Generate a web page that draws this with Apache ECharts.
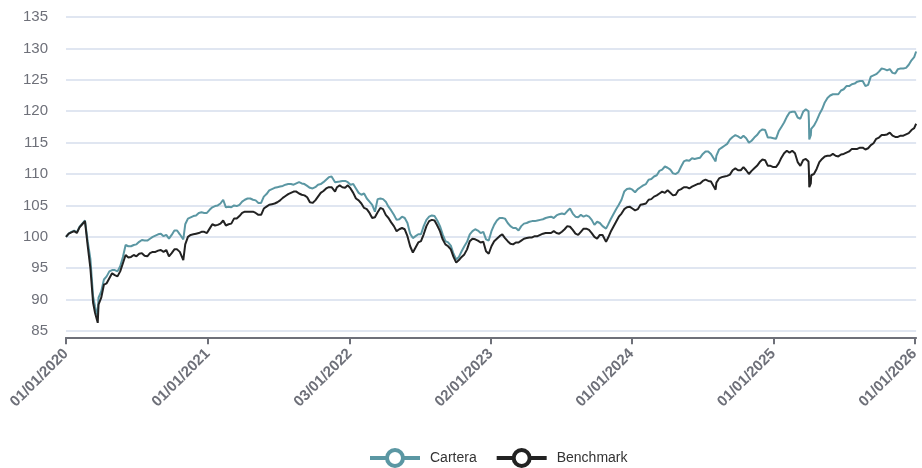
<!DOCTYPE html>
<html><head><meta charset="utf-8">
<script src="https://cdn.jsdelivr.net/npm/echarts@6/dist/echarts.min.js"></script>
<style>html,body{margin:0;padding:0;background:#fff}#c{width:922px;height:468px}</style>
</head><body><div id="c"></div>
<script>
const dates = [
'2020-01-01','2020-01-08','2020-01-15','2020-01-22','2020-01-29','2020-02-05','2020-02-12','2020-02-19','2020-02-26','2020-03-04','2020-03-11','2020-03-16','2020-03-23','2020-03-25','2020-04-01','2020-04-08','2020-04-15','2020-04-22','2020-04-29','2020-05-06','2020-05-13','2020-05-20','2020-05-27','2020-06-03','2020-06-10','2020-06-17','2020-06-24','2020-07-01','2020-07-08','2020-07-15','2020-07-22','2020-07-29','2020-08-05','2020-08-12','2020-08-19','2020-08-26','2020-09-02','2020-09-09','2020-09-16','2020-09-23','2020-09-30','2020-10-07','2020-10-14','2020-10-21','2020-10-30','2020-11-04','2020-11-11','2020-11-18','2020-11-25','2020-12-02','2020-12-09','2020-12-16','2020-12-23','2020-12-30',
'2021-01-06','2021-01-13','2021-01-20','2021-01-27','2021-02-03','2021-02-10','2021-02-17','2021-02-24','2021-03-03','2021-03-10','2021-03-17','2021-03-24','2021-03-31','2021-04-07','2021-04-14','2021-04-21','2021-04-28','2021-05-05','2021-05-12','2021-05-19','2021-05-26','2021-06-02','2021-06-09','2021-06-16','2021-06-23','2021-06-30','2021-07-07','2021-07-14','2021-07-21','2021-07-28','2021-08-04','2021-08-11','2021-08-18','2021-08-25','2021-09-01','2021-09-08','2021-09-15','2021-09-22','2021-09-29','2021-10-06','2021-10-13','2021-10-20','2021-10-27','2021-11-03','2021-11-10','2021-11-17','2021-11-26','2021-12-01','2021-12-08','2021-12-15','2021-12-22','2021-12-29',
'2022-01-05','2022-01-12','2022-01-19','2022-01-26','2022-02-02','2022-02-09','2022-02-16','2022-02-23','2022-03-02','2022-03-09','2022-03-16','2022-03-23','2022-03-30','2022-04-06','2022-04-13','2022-04-20','2022-04-27','2022-05-04','2022-05-11','2022-05-18','2022-05-25','2022-06-01','2022-06-08','2022-06-15','2022-06-22','2022-06-29','2022-07-06','2022-07-13','2022-07-20','2022-07-27','2022-08-03','2022-08-10','2022-08-17','2022-08-24','2022-08-31','2022-09-07','2022-09-14','2022-09-21','2022-09-28','2022-10-05','2022-10-12','2022-10-19','2022-10-26','2022-11-02','2022-11-09','2022-11-16','2022-11-23','2022-11-30','2022-12-07','2022-12-14','2022-12-21','2022-12-28',
'2023-01-04','2023-01-11','2023-01-18','2023-01-25','2023-02-01','2023-02-08','2023-02-15','2023-02-22','2023-03-01','2023-03-08','2023-03-15','2023-03-22','2023-03-29','2023-04-05','2023-04-12','2023-04-19','2023-04-26','2023-05-03','2023-05-10','2023-05-17','2023-05-24','2023-05-31','2023-06-07','2023-06-14','2023-06-21','2023-06-28','2023-07-05','2023-07-12','2023-07-19','2023-07-26','2023-08-02','2023-08-09','2023-08-16','2023-08-23','2023-08-30','2023-09-06','2023-09-13','2023-09-20','2023-09-27','2023-10-04','2023-10-11','2023-10-18','2023-10-27','2023-11-01','2023-11-08','2023-11-15','2023-11-22','2023-11-29','2023-12-06','2023-12-13','2023-12-20','2023-12-27',
'2024-01-03','2024-01-10','2024-01-17','2024-01-24','2024-01-31','2024-02-07','2024-02-14','2024-02-21','2024-02-28','2024-03-06','2024-03-13','2024-03-20','2024-03-27','2024-04-03','2024-04-10','2024-04-17','2024-04-24','2024-05-01','2024-05-08','2024-05-15','2024-05-22','2024-05-29','2024-06-05','2024-06-12','2024-06-19','2024-06-26','2024-07-03','2024-07-10','2024-07-17','2024-07-24','2024-08-05','2024-08-07','2024-08-14','2024-08-21','2024-08-28','2024-09-04','2024-09-11','2024-09-18','2024-09-25','2024-10-02','2024-10-09','2024-10-16','2024-10-23','2024-10-30','2024-11-06','2024-11-13','2024-11-20','2024-11-27','2024-12-04','2024-12-11','2024-12-18','2024-12-25',
'2025-01-01','2025-01-08','2025-01-15','2025-01-22','2025-01-29','2025-02-05','2025-02-12','2025-02-19','2025-02-26','2025-03-05','2025-03-12','2025-03-19','2025-03-26','2025-04-02','2025-04-03','2025-04-04','2025-04-08','2025-04-09','2025-04-16','2025-04-23','2025-04-30','2025-05-07','2025-05-14','2025-05-21','2025-05-28','2025-06-04','2025-06-11','2025-06-18','2025-06-25','2025-07-02','2025-07-09','2025-07-16','2025-07-23','2025-07-30','2025-08-06','2025-08-13','2025-08-20','2025-08-27','2025-09-03','2025-09-10','2025-09-17','2025-09-24','2025-10-01','2025-10-08','2025-10-15','2025-10-22','2025-10-29','2025-11-05','2025-11-12','2025-11-19','2025-11-26','2025-12-03','2025-12-10','2025-12-17','2025-12-24','2025-12-31','2026-01-05'
];
const cartera = [
100.0,100.5,100.8,101.0,100.7,101.6,102.1,102.6,99.3,96.5,90.5,88.9,87.4,90.3,91.3,93.2,93.7,94.5,94.7,94.7,94.5,95.3,96.8,98.7,98.5,98.5,98.7,98.8,99.2,99.5,99.4,99.4,99.7,100.0,100.2,100.4,100.5,100.1,100.3,99.7,100.3,101.0,101.0,100.4,99.6,102.0,102.9,103.1,103.3,103.4,103.8,103.9,103.8,103.8,
104.3,104.7,104.9,105.0,105.3,105.9,104.7,104.8,104.7,105.0,104.9,105.1,105.6,105.9,106.1,106.1,105.9,105.8,105.4,105.4,106.4,106.8,107.4,107.6,107.8,107.9,108.0,108.1,108.3,108.4,108.4,108.3,108.5,108.7,108.5,108.4,108.1,107.8,107.7,107.9,108.3,108.4,108.7,109.1,109.5,109.6,108.7,108.9,108.8,108.9,108.9,108.7,
108.3,108.4,107.7,107.0,106.7,106.9,106.1,105.6,105.1,104.0,106.0,106.1,106.0,105.6,104.8,104.2,103.5,102.7,102.8,103.2,103.0,102.2,100.5,99.8,100.1,100.4,100.4,101.7,102.7,103.2,103.4,103.3,102.6,101.7,100.4,99.3,99.1,98.6,97.3,96.4,96.8,97.7,98.5,99.2,100.4,100.9,101.2,101.0,100.6,100.8,99.6,99.4,
100.9,101.9,102.6,103.0,103.0,102.9,102.2,101.7,101.4,101.4,101.0,101.7,102.1,102.2,102.4,102.5,102.5,102.6,102.7,102.8,103.0,103.1,103.2,103.0,103.4,103.6,103.7,103.6,104.1,104.5,103.7,103.2,103.1,103.5,103.2,103.4,103.2,102.7,101.9,102.4,102.2,101.7,101.3,101.9,102.8,103.6,104.4,105.1,105.9,107.2,107.6,107.7,
107.5,107.1,107.6,107.9,108.2,108.4,109.1,109.2,109.6,109.8,110.5,110.7,111.2,111.0,110.7,110.1,110.0,110.3,111.2,112.0,112.2,112.1,112.5,112.4,112.5,112.6,113.2,113.6,113.6,113.2,112.0,112.9,113.9,114.2,114.5,114.8,115.5,115.9,116.2,116.0,115.7,116.1,115.7,115.0,115.3,115.8,116.2,116.8,117.1,117.0,115.8,115.8,
115.7,115.6,116.8,117.5,118.2,119.1,119.8,119.9,119.9,119.0,118.8,119.9,120.3,120.0,118.6,115.5,116.2,117.2,117.7,118.5,119.5,120.3,121.4,122.1,122.5,122.7,122.7,122.7,123.3,123.5,124.0,124.0,124.3,124.4,124.7,124.8,124.8,124.0,124.2,125.5,125.7,125.9,126.3,126.8,126.7,126.5,126.7,126.1,126.0,126.7,126.8,126.8,126.9,127.4,128.1,128.6,129.5
];
const benchmark = [
100.0,100.5,100.7,100.9,100.6,101.5,102.0,102.5,98.6,95.0,89.5,87.9,86.3,89.2,90.3,92.4,92.6,93.4,94.2,93.9,93.7,94.5,95.8,97.1,96.7,96.8,97.1,96.9,97.3,97.4,97.0,96.9,97.4,97.6,97.6,97.8,97.9,97.6,97.9,96.9,97.4,98.0,98.0,97.6,96.3,98.8,100.0,100.3,100.4,100.5,100.6,100.8,100.8,100.6,
101.3,102.0,101.8,101.9,102.1,102.6,101.8,102.0,102.1,102.9,102.9,103.3,103.8,104.0,104.0,104.0,104.0,103.8,103.5,103.5,104.5,104.8,105.1,105.2,105.3,105.5,105.8,106.2,106.5,106.8,107.0,107.2,107.2,106.9,106.7,106.6,106.3,105.5,105.4,105.8,106.4,107.0,107.3,107.7,107.9,107.9,107.2,107.9,108.2,107.9,107.8,108.2,
107.7,107.0,106.1,105.8,105.3,104.6,104.4,103.8,103.0,103.1,103.9,104.6,104.4,103.5,103.0,102.3,101.7,100.9,101.2,101.4,101.2,100.1,98.5,97.5,98.3,99.1,99.3,100.4,101.7,102.5,102.7,102.6,101.8,100.9,99.6,98.8,98.5,98.0,96.8,95.9,96.3,96.8,97.2,98.0,99.3,99.7,99.6,99.4,99.1,99.2,97.7,97.3,
98.5,99.3,99.7,100.1,100.4,99.8,99.3,98.9,98.8,99.1,99.1,99.4,99.7,99.8,99.9,99.9,100.1,100.1,100.3,100.5,100.6,100.6,100.6,100.9,100.6,100.5,100.8,101.2,101.7,101.6,101.1,100.5,100.3,100.8,101.3,101.3,101.1,100.6,100.0,99.7,100.3,100.3,99.2,99.8,100.8,101.6,102.4,103.2,103.7,104.4,104.7,104.8,
104.5,104.2,104.4,105.1,105.2,105.3,105.9,106.0,106.4,106.6,106.9,107.2,107.0,107.4,107.0,106.6,106.7,107.4,107.6,107.9,107.9,107.7,108.0,108.2,108.4,108.5,108.9,109.1,108.9,108.8,107.5,108.6,109.3,109.5,109.6,109.7,109.9,110.6,110.9,110.6,110.6,111.1,110.6,110.0,110.5,110.9,111.3,111.9,112.3,112.2,111.3,111.3,
111.1,111.1,111.7,112.6,113.3,113.7,113.4,113.7,113.3,111.9,111.3,112.2,112.4,112.0,110.5,107.9,108.5,109.8,110.0,110.8,111.9,112.4,112.8,112.9,112.9,113.2,112.9,112.8,113.1,113.2,113.4,113.6,114.0,114.0,114.0,114.2,114.2,113.9,114.1,114.6,114.9,115.6,115.8,116.2,116.2,116.3,116.6,116.1,115.9,115.9,116.1,116.1,116.3,116.5,117.0,117.3,118.0
];
const xTickDates = ['2020-01-01','2021-01-01','2022-01-03','2023-01-02','2024-01-01','2025-01-01','2026-01-01'];
const yTicks = [85,90,95,100,105,110,115,120,125,130,135];
const seriesNames = ['Cartera','Benchmark'];
const colors = ['#5b97a3','#222222'];

const ts = s => { const p = s.split('-').map(Number); return new Date(p[0], p[1] - 1, p[2]).getTime(); };
const pad = n => (n < 10 ? '0' : '') + n;
const fmtDate = v => { const d = new Date(v); return pad(d.getDate()) + '/' + pad(d.getMonth() + 1) + '/' + d.getFullYear(); };
const font = 'Liberation Sans, Arial, sans-serif';

const chart = echarts.init(document.getElementById('c'), null, {renderer: 'canvas'});
chart.setOption({
  animation: false,
  color: colors,
  grid: {left: 66, right: 1, top: 17, bottom: 130.7, containLabel: false},
  legend: {
    top: 443, left: 363, padding: 5,
    itemWidth: 50, itemHeight: 20, itemGap: 18,
    textStyle: {fontSize: 14, color: '#333', fontFamily: font, padding: [0, 0, 0, 5]},
    lineStyle: {width: 4},
    data: seriesNames.map((n, i) => ({name: n, itemStyle: {color: '#fff', borderColor: colors[i], borderWidth: 4}}))
  },
  xAxis: {
    type: 'value',
    min: ts(dates[0]), max: ts(dates[dates.length - 1]),
    axisLine: {lineStyle: {color: '#6E7079', width: 2}},
    axisTick: {show: true, length: 7, lineStyle: {color: '#6E7079', width: 2}, customValues: xTickDates.map(ts)},
    axisLabel: {customValues: xTickDates.map(ts), rotate: 45, fontSize: 15, fontWeight: 'bold', color: '#6E7079', margin: 14,
      fontFamily: font, formatter: v => fmtDate(v)},
    splitLine: {show: false}
  },
  yAxis: {
    type: 'value', min: 84, max: 135,
    axisLine: {show: false}, axisTick: {show: false, customValues: yTicks},
    axisLabel: {customValues: yTicks, fontSize: 15, color: '#6E7079', margin: 18, fontFamily: font},
    splitLine: {show: true, lineStyle: {color: '#E0E6F1', width: 2}}
  },
  series: seriesNames.map((n, i) => ({
    name: n, type: 'line', symbol: 'circle', showSymbol: false,
    lineStyle: {width: 2, color: colors[i]},
    itemStyle: {color: colors[i]},
    data: dates.map((d, j) => [ts(d), (i === 0 ? cartera : benchmark)[j]])
  }))
});
</script></body></html>
